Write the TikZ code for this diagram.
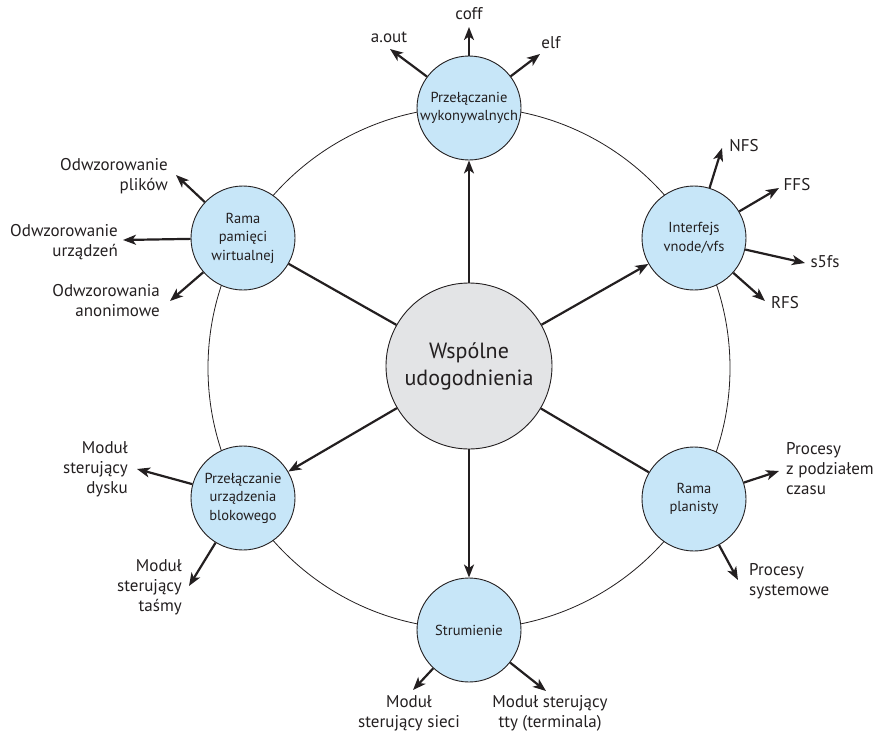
\documentclass[tikz,border=0pt]{standalone}
\usepackage{fontspec}
\setmainfont{PT Sans}
\usetikzlibrary{arrows.meta}
\definecolor{satblue}{RGB}{199,230,248}
\definecolor{cengray}{RGB}{227,228,230}
\definecolor{ink}{RGB}{35,31,32}
\begin{document}
\begin{tikzpicture}[x=1pt,y=-1pt,
  sat/.style={circle,draw=ink,line width=0.9pt,fill=satblue,minimum size=104pt,inner sep=0pt,align=center,text=ink,font=\fontsize{14.5}{18.5}\selectfont},
  cen/.style={circle,draw=ink,line width=0.9pt,fill=cengray,minimum size=166pt,inner sep=0pt,align=center,text=ink,font=\fontsize{22}{27}\selectfont},
  ring/.style={draw=ink,line width=0.8pt},
  spoke/.style={draw=ink,line width=2.2pt},
  arr/.style={draw=ink,line width=2.2pt,-{Stealth[length=13pt,width=10pt,inset=3.5pt]}},
  lbl/.style={inner sep=0pt,text=ink,font=\fontsize{17}{20}\selectfont}]
\useasboundingbox (0,0) rectangle (879,736);
\coordinate (O) at (469,368);
\draw[ring] (O) circle[radius=261pt];
% nodes
\node[cen] (c) at (469,366) {Wspólne\\udogodnienia};
\node[sat] (top) at (469,108) {Przełączanie\\wykonywalnych};
\node[sat] (vfs) at (694,238) {Interfejs\\vnode/vfs};
\node[sat] (vm) at (243,238) {Rama\\pamięci\\wirtualnej};
\node[sat] (blk) at (243,498) {Przełączanie\\urządzenia\\blokowego};
\node[sat] (sch) at (694,499) {Rama\\planisty};
\node[sat] (str) at (469,630) {Strumienie};
% spokes
\draw[arr] (c) -- (top);
\draw[arr] (c) -- (vfs);
\draw[arr] (c) -- (blk);
\draw[arr] (c) -- (str);
\draw[spoke] (c) -- (vm);
\draw[spoke] (c) -- (sch);
% tips
\coordinate (taout) at (390,49);
\coordinate (tcoff) at (469,27);
\coordinate (telf) at (540,54);
\coordinate (tnfs) at (722,148);
\coordinate (tffs) at (779,188);
\coordinate (ts5) at (805,263);
\coordinate (trfs) at (765,301);
\coordinate (tplik) at (176,175);
\coordinate (turz) at (123,240);
\coordinate (tanon) at (170,301);
\coordinate (tdysk) at (137,469);
\coordinate (ttasm) at (189,586);
\coordinate (tpodz) at (779,471);
\coordinate (tsys) at (738,580);
\coordinate (tsiec) at (413,690);
\coordinate (ttty) at (546,691);
\foreach \s/\t in {top/taout,top/tcoff,top/telf,vfs/tnfs,vfs/tffs,vfs/ts5,vfs/trfs,vm/tplik,vm/turz,vm/tanon,blk/tdysk,blk/ttasm,sch/tpodz,sch/tsys,str/tsiec,str/ttty}
  \draw[arr] (\s) -- (\t);
% labels
\node[lbl] (lcoff) at (469,14) {coff};
\node[lbl] (laout) at (389,37) {a.out};
\node[lbl] (lelf) at (551,43) {elf};
\node[lbl] (lnfs) at (744,146) {NFS};
\node[lbl] (lffs) at (797,185) {FFS};
\node[lbl] (ls5) at (825,262) {s5fs};
\node[lbl] (lrfs) at (785,303) {RFS};
\node[lbl,anchor=east,align=right] (lplik) at (168,176) {Odwzorowanie\\plików};
\node[lbl,anchor=east,align=right] (lurz) at (118,242) {Odwzorowanie\\urządzeń};
\node[lbl,anchor=east,align=right] (lanon) at (160,301) {Odwzorowania\\anonimowe};
\node[lbl,anchor=east,align=right] (ldysk) at (128,469) {Moduł\\sterujący\\dysku};
\node[lbl,anchor=east,align=right] (ltasm) at (182,587) {Moduł\\sterujący\\taśmy};
\node[lbl,anchor=west,align=left] (lpodz) at (786,469) {Procesy\\z podziałem\\czasu};
\node[lbl,anchor=west,align=left] (lsys) at (749,581) {Procesy\\systemowe};
\node[lbl,align=center] (lsiec) at (409,713) {Moduł\\sterujący sieci};
\node[lbl,align=center] (ltty) at (550,713) {Moduł sterujący\\tty (terminala)};
\end{tikzpicture}
\end{document}
